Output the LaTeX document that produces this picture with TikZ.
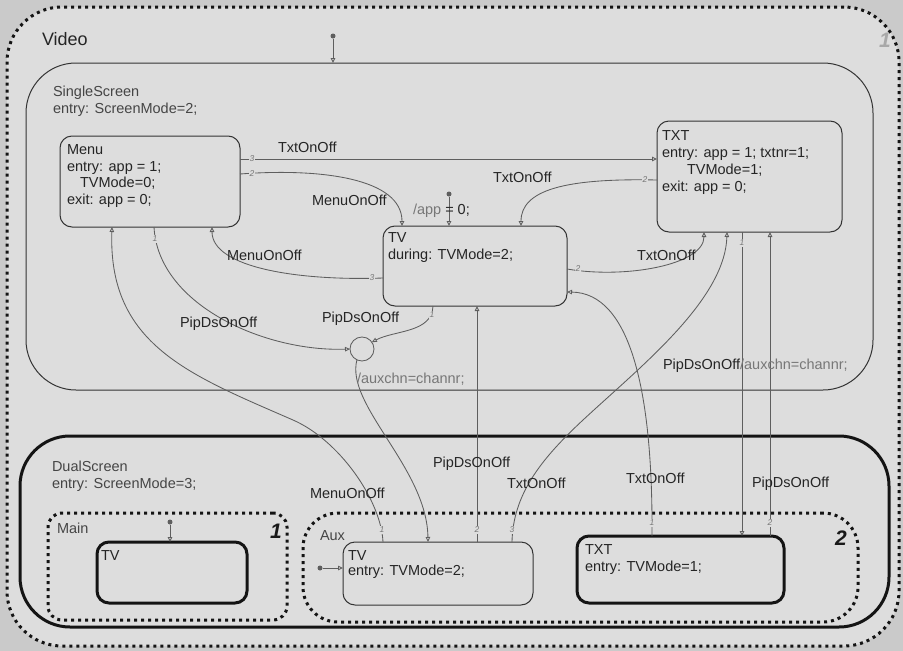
\documentclass[tikz,border=0pt]{standalone}
\usepackage{fontspec}
\setmainfont{Liberation Sans}
\usetikzlibrary{arrows.meta}
\definecolor{canvasout}{HTML}{CACACA}
\definecolor{canvasin}{HTML}{DDDDDD}
\definecolor{edgedark}{HTML}{333333}
\definecolor{trline}{HTML}{5E5E5E}
\definecolor{txtdark}{HTML}{252525}
\definecolor{txtmid}{HTML}{454545}
\definecolor{txtsoft}{HTML}{777777}
\definecolor{numsoft}{HTML}{A8A8A8}
\newcommand{\lblfont}{\fontsize{14.5}{16.5}\selectfont}

\begin{document}
\begin{tikzpicture}[x=1pt,y=-1pt,
  statebox/.style={draw=edgedark, line width=1pt, rounded corners=12pt, inner sep=0pt, outer sep=0pt},
  heavybox/.style={statebox, draw=black!92, line width=3pt},
  parbox/.style={draw=black!92, line width=3pt, dash pattern=on 3pt off 4pt, inner sep=0pt, outer sep=0pt},
  lbl/.style={anchor=base west, inner sep=0pt, outer sep=0pt, align=left, font=\lblfont, text=txtdark},
  sublbl/.style={lbl, text=txtmid},
  prio/.style={font=\fontsize{8.5}{9}\selectfont\itshape, text=txtsoft, fill=canvasin, inner sep=0.7pt},
  tr/.style={draw=trline, line width=0.85pt, -{Triangle[open, length=5pt, width=4.5pt]}},
  jdot/.style={circle, fill=trline, inner sep=0pt, minimum size=5pt},
  junct/.style={circle, draw=trline, line width=0.85pt, minimum size=24pt, inner sep=0pt, outer sep=0pt},
  bignum/.style={anchor=base west, inner sep=0pt, font=\fontsize{21}{21}\selectfont\bfseries\itshape, text=black!90}
]

\useasboundingbox (0,0) rectangle (903,651);
\fill[canvasout] (0,0) rectangle (903,651);

% ---------- states ----------
\node[parbox, fill=canvasin, rounded corners=55pt, minimum width=892pt, minimum height=639pt] (video) at (453,326.5) {};
\node[statebox, rounded corners=50pt, minimum width=847pt, minimum height=327pt] (ss) at (449.5,226.5) {};
\node[statebox, minimum width=180pt, minimum height=91pt] (menu) at (150,181.5) {};
\node[statebox, minimum width=185pt, minimum height=111pt] (txt) at (749.5,176.5) {};
\node[statebox, minimum width=184pt, minimum height=80pt] (tv) at (475,266) {};
\node[junct] (junc) at (362,349) {};
\node[heavybox, rounded corners=50pt, minimum width=869pt, minimum height=191pt] (ds) at (454.5,531.5) {};
\node[parbox, rounded corners=14pt, minimum width=239pt, minimum height=107pt] (main) at (167.5,566.5) {};
\node[heavybox, minimum width=150pt, minimum height=61pt] (mtv) at (172,572.5) {};
\node[parbox, rounded corners=35pt, minimum width=555pt, minimum height=109pt] (aux) at (580.5,567.5) {};
\node[statebox, minimum width=190pt, minimum height=63pt] (atv) at (438,573.5) {};
\node[heavybox, minimum width=207pt, minimum height=67pt] (atxt) at (680.5,569.5) {};

% ---------- default transitions ----------
\node[jdot] (d1) at (333,36) {};
\draw[tr] (d1) -- (ss.north -| d1);
\node[jdot] (d2) at (449,194) {};
\draw[tr] (d2) -- (tv.north -| d2);
\node[jdot] (d3) at (170,522) {};
\draw[tr] (d3) -- (mtv.north -| d3);
\node[jdot] (d4) at (320,568) {};
\draw[tr] (d4) -- (atv.west |- d4);

% ---------- transitions ----------
\draw[tr] (menu.east |- 0,159) -- (txt.west |- 0,159);
\draw[tr] (menu.east |- 0,174) .. controls (320,168) and (402,178) .. (tv.north -| 402,0);
\draw[tr] (txt.west |- 0,180) .. controls (565,178) and (521,190) .. (tv.north -| 521,0);
\draw[tr] (tv.west |- 0,278) .. controls (300,281) and (212,268) .. (menu.south -| 212,0);
\draw[tr] (tv.east |- 0,269) .. controls (625,279) and (704,265) .. (txt.south -| 704,0);
\draw[tr] (menu.south -| 154,0) .. controls (158,305) and (265,352) .. (junc.west);
\draw[tr] (tv.south -| 433,0) .. controls (432,333) and (395,330) .. (junc.35);
\draw[tr] (junc.-115) .. controls (345,405) and (427,468) .. (atv.north -| 428,0);
\draw[tr] (atv.north -| 383,0) .. controls (381,500) and (339,440) .. (293,420)
          .. controls (190,375) and (108,345) .. (menu.south -| 112,0);
\draw[tr] (atv.north -| 477,0) -- (tv.south -| 477,0);
\draw[tr] (atv.north -| 512,0) .. controls (513,495) and (540,460) .. (583,420)
          .. controls (640,367) and (725,300) .. (txt.south -| 727,0);
\draw[tr] (atxt.north -| 652,0) .. controls (653,390) and (630,293) .. (tv.east |- 0,292);
\draw[tr] (txt.south -| 742,0) -- (atxt.north -| 742,0);
\draw[tr] (atxt.north -| 770,0) -- (txt.south -| 770,0);

% ---------- execution order numbers ----------
\node[prio] (p1) at (252,159) {3};
\node[prio] (p2) at (252,174) {2};
\node[prio] (p3) at (645,180) {2};
\node[prio] (p4) at (372,278) {3};
\node[prio] (p5) at (578,269) {2};
\node[prio] (p6) at (155,239) {1};
\node[prio] (p7) at (432,315) {1};
\node[prio] (p9) at (382,530) {1};
\node[prio] (p10) at (477,530) {2};
\node[prio] (p11) at (512,530) {3};
\node[prio] (p12) at (652,523) {1};
\node[prio] (p13) at (742,243) {1};
\node[prio] (p14) at (770,523) {2};

% ---------- transition labels ----------
\node[lbl] (l1) at (278,152) {TxtOnOff};
\node[lbl] (l2) at (312,205) {MenuOnOff};
\node[lbl] (l3) at (493,182) {TxtOnOff};
\node[lbl] (l4) at (413,214) {{\color{txtsoft}/app} = 0;};
\node[lbl] (l5) at (227,260) {MenuOnOff};
\node[lbl] (l6) at (637,260) {TxtOnOff};
\node[lbl] (l7) at (180,327) {PipDsOnOff};
\node[lbl] (l8) at (322,322) {PipDsOnOff};
\node[lbl, text=txtsoft] (l9) at (357,383) {/auxchn=channr;};
\node[lbl] (l10) at (663,369) {PipDsOnOff{\color{txtsoft}/auxchn=channr;}};
\node[lbl] (l11) at (433,467) {PipDsOnOff};
\node[lbl] (l12) at (310,498) {MenuOnOff};
\node[lbl] (l13) at (507,488) {TxtOnOff};
\node[lbl] (l14) at (626,483) {TxtOnOff};
\node[lbl] (l15) at (752,487) {PipDsOnOff};

% ---------- state labels (base anchor = baseline of the last line) ----------
\node[lbl, font=\fontsize{18}{18}\selectfont] (videoL) at (42,45) {Video};
\node[bignum, text=numsoft] (videoN) at (879,47) {1};
\node[sublbl] (ssL) at (53,113) {SingleScreen\\entry: ScreenMode=2;};
\node[lbl] (menuL) at (67,204) {Menu\\entry: app = 1;\\\hspace*{13pt}TVMode=0;\\exit: app = 0;};
\node[lbl, font=\fontsize{14.5}{17}\selectfont] (txtL) at (662,191) {TXT\\entry: app = 1; txtnr=1;\\\hspace*{25pt}TVMode=1;\\exit: app = 0;};
\node[lbl] (tvL) at (388,259) {TV\\during: TVMode=2;};
\node[sublbl] (dsL) at (52,488) {DualScreen\\entry: ScreenMode=3;};
\node[sublbl] (mainL) at (57,533) {Main};
\node[bignum] (mainN) at (270,538) {1};
\node[sublbl] (auxL) at (320,540) {Aux};
\node[bignum] (auxN) at (835,545) {2};
\node[lbl] (mtvL) at (101,560) {TV};
\node[lbl, font=\fontsize{14.5}{15}\selectfont] (atvL) at (348,575) {TV\\entry: TVMode=2;};
\node[lbl] (atxtL) at (585,571) {TXT\\entry: TVMode=1;};
\end{tikzpicture}
\end{document}
